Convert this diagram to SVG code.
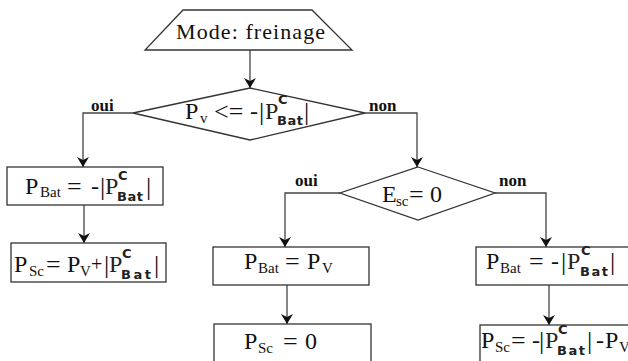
<svg xmlns="http://www.w3.org/2000/svg" width="628" height="361" viewBox="0 0 628 361">
<defs>
<style>
.shape{fill:#fff;stroke:#333;stroke-width:1.3}
.line{fill:none;stroke:#444;stroke-width:1.3}
text{font-family:"Liberation Serif","Times New Roman",serif;fill:#111}
.t{font-size:24px}
.s{font-size:15px}
.eq{font-size:26px}
.bar{font-size:26px}
.c{font-family:"DejaVu Sans","Liberation Sans",sans-serif;font-weight:bold;font-size:13px;fill:#222}
.pc{fill:#2b2218}
.lbl{font-weight:bold;font-size:17px}
</style>
<marker id="arr" markerUnits="userSpaceOnUse" markerWidth="12" markerHeight="12" refX="10" refY="6" orient="auto">
<path d="M0,0 L10,6 L0,12 L3,6 Z" fill="#111"/>
</marker>
</defs>
<rect width="628" height="361" fill="#fff"/>

<g id="connectors">
<line class="line" x1="250" y1="50" x2="250" y2="88" marker-end="url(#arr)"/>
<polyline class="line" points="133,113 83,113 83,167" marker-end="url(#arr)"/>
<line class="line" x1="84" y1="205" x2="84" y2="243" marker-end="url(#arr)"/>
<polyline class="line" points="365,113 417,113 417,167" marker-end="url(#arr)"/>
<polyline class="line" points="340,193 285,193 285,247" marker-end="url(#arr)"/>
<line class="line" x1="287" y1="285" x2="287" y2="324" marker-end="url(#arr)"/>
<polyline class="line" points="495,193 546,193 546,247" marker-end="url(#arr)"/>
<line class="line" x1="549" y1="285" x2="549" y2="325" marker-end="url(#arr)"/>
<text class="lbl" x="91" y="111">oui</text>
<text class="lbl" x="369" y="111">non</text>
<text class="lbl" x="295" y="186">oui</text>
<text class="lbl" x="499" y="186">non</text>
</g>

<g id="start">
<polygon class="shape" points="183,10 312,10 352,50 145,50"/>
<text x="176" y="39" font-size="22" textLength="149" lengthAdjust="spacing">Mode: freinage</text>
</g>

<g id="decision1">
<polygon class="shape" points="250,88 365,113 250,140 133,113"/>
<text class="t" x="185" y="119">P</text>
<text class="s" x="200" y="123">v</text>
<text class="eq" x="214" y="120">&lt;=</text>
<text class="t" x="250" y="119">-</text>
<text class="bar" x="259" y="120">|</text>
<text class="t pc" x="265" y="119">P</text>
<text class="c" x="278" y="104" font-size="14">C</text>
<text class="c" x="277" y="125" textLength="26" lengthAdjust="spacing">Bat</text>
<text class="bar" x="304" y="120">|</text>
</g>

<g id="box1">
<rect class="shape" x="7" y="167" width="156" height="38"/>
<text class="t" x="25" y="194">P</text>
<text class="s" x="40" y="197">Bat</text>
<text class="eq" x="67" y="195">=</text>
<text class="t" x="91" y="194">-</text>
<text class="bar" x="100" y="195">|</text>
<text class="t pc" x="105" y="194">P</text>
<text class="c" x="118" y="180" font-size="14">C</text>
<text class="c" x="117" y="201" textLength="26" lengthAdjust="spacing">Bat</text>
<text class="bar" x="146" y="195">|</text>
</g>

<g id="box2">
<rect class="shape" x="11" y="243" width="155" height="39"/>
<text class="t" x="14" y="272">P</text>
<text class="s" x="29" y="276">Sc</text>
<text class="eq" x="46" y="273">=</text>
<text class="t" x="67" y="272">P</text>
<text class="s" x="80" y="276">V</text>
<text x="91" y="271" font-size="20">+</text>
<text class="bar" x="104" y="273">|</text>
<text class="t pc" x="109" y="272">P</text>
<text class="c" x="122" y="258" font-size="14">C</text>
<text class="c" x="121" y="279" textLength="30" lengthAdjust="spacing">Bat</text>
<text class="bar" x="154" y="273">|</text>
</g>

<g id="decision2">
<polygon class="shape" points="418,167 495,193 418,220 340,193"/>
<text class="t" x="382" y="202">E</text>
<text class="s" x="396" y="206">sc</text>
<text class="eq" x="409" y="203">=</text>
<text class="t" x="430" y="202">0</text>
</g>

<g id="box3">
<rect class="shape" x="213" y="247" width="156" height="38"/>
<text class="t" x="244" y="269">P</text>
<text class="s" x="258" y="273">Bat</text>
<text class="eq" x="285" y="270">=</text>
<text class="t" x="307" y="269">P</text>
<text class="s" x="322" y="273">V</text>
</g>

<g id="box4">
<rect class="shape" x="214" y="324" width="157" height="45"/>
<text class="t" x="244" y="349">P</text>
<text class="s" x="258" y="353">Sc</text>
<text class="eq" x="283" y="350">=</text>
<text class="t" x="305" y="349">0</text>
</g>

<g id="box5">
<rect class="shape" x="476" y="247" width="160" height="38"/>
<text class="t" x="486" y="269">P</text>
<text class="s" x="500" y="273">Bat</text>
<text class="eq" x="529" y="270">=</text>
<text class="t" x="551" y="269">-</text>
<text class="bar" x="561" y="270">|</text>
<text class="t pc" x="567" y="269">P</text>
<text class="c" x="581" y="255" font-size="14">C</text>
<text class="c" x="580" y="276" textLength="28" lengthAdjust="spacing">Bat</text>
<text class="bar" x="610" y="270">|</text>
</g>

<g id="box6">
<rect class="shape" x="480" y="325" width="160" height="45"/>
<text class="t" x="481" y="348">P</text>
<text class="s" x="495" y="352">Sc</text>
<text class="eq" x="511" y="349">=</text>
<text class="t" x="532" y="348">-</text>
<text class="bar" x="539" y="349">|</text>
<text class="t pc" x="545" y="348">P</text>
<text class="c" x="558" y="334" font-size="14">C</text>
<text class="c" x="557" y="355" textLength="28" lengthAdjust="spacing">Bat</text>
<text class="bar" x="587" y="349">|</text>
<text class="t" x="596" y="348">-</text>
<text class="t" x="605" y="348">P</text>
<text class="s" x="619" y="352">V</text>
</g>
</svg>
